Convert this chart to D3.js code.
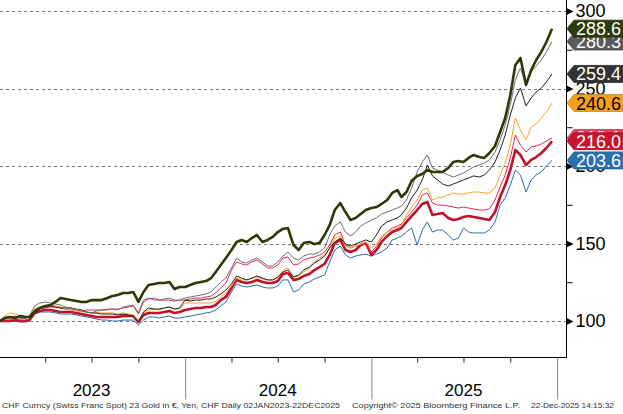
<!DOCTYPE html>
<html><head><meta charset="utf-8">
<script src="https://cdn.jsdelivr.net/npm/d3@7"></script>
<style>
html,body{margin:0;padding:0;background:#fff;}
svg{display:block;font-family:"Liberation Sans",Arial,sans-serif;}
</style></head>
<body>
<svg id="chart" width="623" height="414"></svg>
<script>
// ---------- data ----------
const years = [2023, 2024, 2025];
const sampleDays = [1, 11, 21];
const yTicks = [100, 150, 200, 250, 300];
const yMinorTicks = [125, 175, 225, 275];
const yearLabels = ["2023", "2024", "2025"];
const footerTexts = [
  "CHF Curncy (Swiss Franc Spot) 23 Gold in \u20ac, Yen, CHF Daily 02JAN2023-22DEC2025",
  "Copyright\u00a9 2025 Bloomberg Finance L.P.",
  "22-Dec-2025 14:15:32"
];

const seriesOlive = [
 100,101.9,102.6,101.9,103.2,102.6,102.6,105.8,108.4,109.7,110.3,112.3,114.8,114.2,113.5,112.9,112.3,112.3,113.5,113.5,113.5,114.8,116.1,116.8,118.1,118.1,118.7,112.3,118.7,123.2,123.9,124.5,124.5,125.2,120.6,121.9,
 121.9,123.2,124.5,125.2,125.8,127.7,131.6,136.1,140.6,145.8,151.0,152.3,151.0,153.5,155.5,151.0,152.3,154.2,157.4,159.4,160.0,149.0,145.8,150.3,151.0,149.7,150.3,155.5,161.9,171.6,176.1,170.3,165.2,166.5,169.0,171.6,
 172.9,173.5,175.5,178.1,182.6,184.5,180.0,183.2,190.3,193.6,194.8,197.4,196.1,196.1,196.1,198.7,202.6,203.2,202.6,205.2,207.1,205.8,205.2,208.4,212.9,221.9,231.0,245.8,265.2,269.7,252.3,261.9,268.4,273.6,280.0,288.6];
const seriesGray = [
 100,101.9,102.6,103.2,101.9,101.9,103.2,109.7,111.6,112.3,111.6,111.0,110.3,109.0,108.4,107.7,106.5,105.8,105.2,106.5,107.1,107.1,107.7,107.1,109.0,109.7,110.3,105.2,113.5,114.8,113.5,113.5,114.2,114.8,113.5,113.5,
 114.8,115.5,116.1,116.8,117.4,118.7,121.9,125.2,127.7,134.2,140.6,138.1,137.4,139.4,140.6,138.1,135.5,135.5,138.1,141.9,144.5,140.6,139.4,141.9,143.2,143.2,144.5,147.1,155.5,161.3,163.9,157.4,154.8,157.4,161.3,163.2,
 165.2,166.5,169.0,170.3,171.6,172.9,174.2,178.1,185.8,196.1,202.6,207.1,198.7,197.4,196.1,194.2,192.9,194.2,195.5,197.4,199.4,200.6,201.9,203.9,209.0,216.8,226.5,239.4,255.5,263.2,251.6,260.6,264.5,268.4,273.6,280.3];
const seriesBlack = [
 100,101.9,101.9,102.6,101.9,101.9,102.6,107.1,108.4,109.0,109.7,109.0,108.4,108.4,108.4,107.7,107.1,105.8,105.2,105.2,104.5,104.5,104.5,103.9,104.5,103.9,103.2,99.4,105.8,108.4,107.7,107.7,108.4,109.0,107.7,108.4,
 113.5,112.9,113.5,113.5,114.2,114.2,115.5,117.4,120.0,123.9,129.0,127.7,126.5,127.7,129.0,127.7,126.5,126.5,128.4,131.6,132.9,128.4,129.7,132.9,134.8,137.4,139.4,141.9,147.1,151.0,153.5,149.7,148.4,149.7,151.0,152.3,
 151.0,155.5,161.3,163.9,165.2,166.5,168.4,172.9,179.4,184.5,191.0,200.6,193.6,191.0,188.4,187.1,188.4,189.7,191.0,192.3,193.6,192.9,194.2,197.4,202.6,210.3,220.0,232.9,243.9,250.3,238.7,243.9,247.7,250.3,254.2,259.4];
const seriesOrange = [
 100,103.2,105.2,104.5,103.2,102.6,103.2,107.7,109.0,109.7,110.3,109.7,109.0,107.7,107.1,106.5,105.8,105.8,105.2,105.2,105.2,105.2,105.2,104.5,105.2,104.5,103.9,100.0,105.2,107.1,107.7,107.1,108.4,109.0,107.7,107.7,
 111.6,111.6,111.6,111.6,111.6,111.6,112.9,115.5,118.1,122.6,127.7,126.5,126.5,127.7,128.4,127.1,126.5,126.5,127.7,132.9,134.2,128.4,129.0,131.6,134.2,138.1,140.6,142.6,147.1,153.5,154.8,148.4,147.1,148.4,149.7,151.0,
 147.1,149.7,154.8,157.4,158.7,160.0,161.9,168.4,173.5,178.1,184.5,185.8,178.1,179.4,180.0,181.3,182.6,181.9,181.9,182.6,183.2,183.2,182.6,182.6,185.8,194.2,201.9,213.5,231.0,223.2,216.8,225.2,227.1,231.0,234.8,240.6];
const seriesPink = [
 100,100.6,100.6,101.3,100.6,100.6,101.3,106.5,107.7,108.4,109.0,109.0,108.4,107.7,107.7,107.1,106.5,107.1,107.1,107.1,107.1,107.7,107.7,107.7,108.4,109.0,109.7,104.5,112.3,114.2,114.8,113.5,113.5,113.5,112.9,113.5,
 113.5,114.2,114.8,114.8,115.5,116.1,118.1,121.3,124.5,132.9,138.1,136.8,136.1,138.1,139.4,136.8,134.2,134.2,136.1,140.6,141.3,136.1,136.8,139.4,140.6,141.3,142.6,144.5,149.0,155.5,157.4,149.0,147.1,148.4,149.0,149.7,
 144.5,148.4,153.5,157.4,160.0,161.3,162.6,166.5,170.3,174.8,181.3,182.6,176.1,174.8,174.8,174.2,173.5,172.9,173.5,172.9,172.3,171.6,171.6,172.3,178.1,186.5,194.2,205.2,220.0,213.5,209.0,212.3,212.9,214.2,216.1,218.1];
const seriesCrimson = [
 100,100,100,100.6,100,100,100.6,105.2,106.5,107.1,107.1,106.5,105.8,105.8,105.8,105.2,104.5,103.9,103.2,102.6,102.6,102.6,102.6,102.6,103.2,103.2,103.2,99.4,103.9,105.2,105.2,105.2,105.8,106.5,105.2,105.8,
 107.1,107.7,108.4,108.4,109.0,109.0,110.3,113.5,115.5,121.3,126.5,125.2,124.5,125.2,126.5,125.2,124.5,124.5,125.8,130.3,131.0,126.5,127.1,129.0,130.3,132.9,134.8,136.8,142.6,150.3,152.3,145.8,144.5,145.8,149.0,150.3,
 142.6,145.8,151.0,154.8,157.4,158.7,160.0,163.9,167.7,171.6,175.5,176.8,168.4,169.0,169.7,166.5,165.2,165.8,167.1,167.7,167.1,166.5,165.8,165.2,170.3,180.0,187.7,197.4,210.3,207.1,200.6,203.9,205.8,208.4,211.6,216.0];
const seriesBlue = [
 100,100,100,100,99.4,99.4,100,104.5,105.8,105.8,105.8,105.2,104.5,104.5,104.5,103.9,103.2,102.6,101.9,101.3,100.6,100.6,100,100,100.6,100.6,100.6,97.4,100.6,102.6,102.6,101.9,102.6,103.2,101.9,101.9,
 102.6,103.2,103.9,104.5,105.2,105.8,107.1,109.7,112.3,118.7,123.9,122.6,121.9,122.6,123.2,121.9,121.3,121.3,122.6,126.5,126.5,118.7,120.0,123.9,125.2,127.1,128.4,129.7,138.1,145.8,148.4,142.6,140.6,141.9,142.6,143.2,
 141.9,143.2,144.5,147.1,152.3,153.5,154.8,157.4,160.0,149.0,158.7,163.9,157.4,158.7,158.7,155.5,152.3,153.5,160.0,157.4,156.8,156.8,156.8,158.7,163.9,174.8,179.4,187.7,197.4,194.2,183.2,191.0,194.2,196.1,200.0,203.6];

// dates: 1st, 11th, 21st of each month (first = 2 Jan 2023, last = 22 Dec 2025)
const dates = [];
years.forEach(yr => { for (let m = 0; m < 12; m++) sampleDays.forEach(d => dates.push(new Date(yr, m, d))); });
dates[0] = new Date(2023, 0, 2);
dates[dates.length - 1] = new Date(2025, 11, 22);

// draw order: back to front
const series = [
  {vals: seriesBlue,    color: "#2b6cb0", w: 1,   tag: "#2c6fae", txt: "#fff"},
  {vals: seriesCrimson, color: "#c0102a", w: 2.6, tag: "#c8142c", txt: "#fff"},
  {vals: seriesPink,    color: "#e8284e", w: 1,   tag: "#e8405e", txt: "#fff"},
  {vals: seriesOrange,  color: "#f5a623", w: 1,   tag: "#f7a11a", txt: "#000"},
  {vals: seriesBlack,   color: "#222222", w: 1,   tag: "#333333", txt: "#fff"},
  {vals: seriesGray,    color: "#6e6e6e", w: 1,   tag: "#5a5a5a", txt: "#fff"},
  {vals: seriesOlive,   color: "#2b3a06", w: 2.6, tag: "#2c3b0c", txt: "#fff"}
];
// tag draw order (later = on top)
const tagOrder = [2, 5, 4, 3, 0, 1, 6];

// ---------- layout ----------
const svg = d3.select("#chart");
const plotRight = 566, plotBottom = 357;
const x = d3.scaleTime().domain([new Date(2023, 0, 2), new Date(2025, 11, 22)]).range([0, 552]);
const y = d3.scaleLinear().domain([100, 300]).range([321, 11]);

// gridlines
svg.append("g").selectAll("line").data(yTicks).join("line")
  .attr("x1", 0).attr("x2", plotRight)
  .attr("y1", d => Math.round(y(d)) + 0.5).attr("y2", d => Math.round(y(d)) + 0.5)
  .attr("stroke", "#7a7a7a").attr("stroke-width", 1).attr("stroke-dasharray", "3,3");

// lines
svg.append("defs").append("clipPath").attr("id", "clip")
  .append("rect").attr("x", 0).attr("y", 0).attr("width", plotRight).attr("height", plotBottom);
const line = d3.line().x((d, i) => x(dates[i])).y(d => y(d));
const gLines = svg.append("g").attr("clip-path", "url(#clip)");
series.forEach(s => {
  gLines.append("path").datum(s.vals).attr("d", line)
    .attr("fill", "none").attr("stroke", s.color).attr("stroke-width", s.w)
    .attr("stroke-linejoin", "round");
});

// frame: right axis line and bottom border
svg.append("line").attr("x1", plotRight + 0.5).attr("x2", plotRight + 0.5).attr("y1", 0).attr("y2", plotBottom + 0.5)
  .attr("stroke", "#000").attr("stroke-width", 1);
svg.append("line").attr("x1", 0).attr("x2", plotRight + 1).attr("y1", plotBottom + 0.5).attr("y2", plotBottom + 0.5)
  .attr("stroke", "#000").attr("stroke-width", 1);

// right axis minor ticks
const minorAxis = d3.axisRight(y).tickValues(yMinorTicks).tickSize(6).tickFormat("");
const gMinor = svg.append("g").attr("transform", `translate(${plotRight + 0.5},0)`).call(minorAxis);
gMinor.select(".domain").remove();
gMinor.selectAll("line").attr("stroke", "#000");

// right axis major labels with arrow ticks
const majorAxis = d3.axisRight(y).tickValues(yTicks).tickSize(0).tickPadding(9).tickFormat(d3.format("d"));
const gMajor = svg.append("g").attr("transform", `translate(${plotRight + 0.5},0)`).call(majorAxis);
gMajor.select(".domain").remove();
gMajor.selectAll("text").attr("font-family", "'Liberation Sans',Arial,sans-serif").attr("font-size", 18).attr("fill", "#000");
gMajor.selectAll(".tick").append("path").attr("d", "M0,-3.5L7,0L0,3.5Z").attr("fill", "#000");

// value tags
const tagH = 17;
const gTags = svg.append("g");
tagOrder.forEach(i => {
  const s = series[i];
  const v = s.vals[s.vals.length - 1];
  const cy = y(v);
  const g = gTags.append("g").attr("transform", `translate(0,${cy})`);
  g.append("path")
    .attr("d", `M567,0L574,${-tagH/2}L624,${-tagH/2}L624,${tagH/2}L574,${tagH/2}Z`)
    .attr("fill", s.tag).attr("stroke", d3.color(s.tag).darker(0.6)).attr("stroke-width", 0.8);
  g.append("text").attr("x", 576).attr("y", 0).attr("dy", "0.36em")
    .attr("font-size", 18).attr("fill", s.txt).text(v.toFixed(1));
});

// bottom axis: quarterly minor ticks
const quarterTicks = [];
years.forEach(yr => [3, 6, 9].forEach(m => quarterTicks.push(new Date(yr, m, 1))));
const qAxis = d3.axisBottom(x).tickValues(quarterTicks).tickSize(5).tickFormat("");
const gQ = svg.append("g").attr("transform", `translate(0,${plotBottom + 0.5})`).call(qAxis);
gQ.select(".domain").remove();
gQ.selectAll("line").attr("stroke", "#222");

// year separators
const yearStarts = [new Date(2024, 0, 1), new Date(2025, 0, 1), new Date(2026, 0, 1)];
const sepAxis = d3.axisBottom(x).tickValues(yearStarts).tickSize(42).tickFormat("");
const gSep = svg.append("g").attr("transform", `translate(0,${plotBottom + 0.5})`).call(sepAxis);
gSep.select(".domain").remove();
gSep.selectAll("line").attr("stroke", "#8a8a8a");

// year labels (centered mid-year)
svg.append("g").selectAll("text").data(yearLabels).join("text")
  .attr("x", (d, i) => x(new Date(years[i], 6, 1)))
  .attr("y", 396).attr("text-anchor", "middle")
  .attr("font-size", 17).attr("fill", "#000").text(d => d);

// footer
const footerX = [2, 352, 531];
const footerLen = [338, 168, 83];
svg.append("g").selectAll("text").data(footerTexts).join("text")
  .attr("x", (d, i) => footerX[i]).attr("y", 408)
  .attr("font-family", "'Liberation Sans',Arial,sans-serif").attr("font-size", 8).attr("fill", "#333")
  .attr("textLength", (d, i) => footerLen[i]).attr("lengthAdjust", "spacingAndGlyphs")
  .text(d => d);
</script>
</body></html>
